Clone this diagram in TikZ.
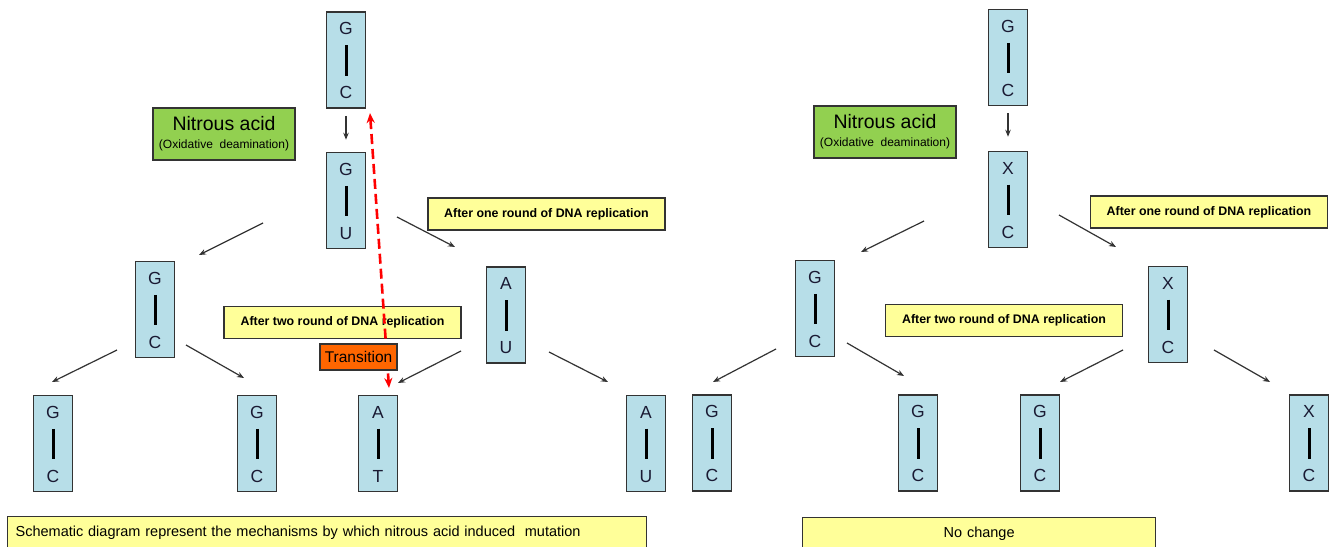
\documentclass[tikz,border=0pt]{standalone}
\usepackage{fontspec}
\setmainfont{Liberation Sans}
\usetikzlibrary{arrows.meta}

\definecolor{pairfill}{HTML}{B7DEE8}
\definecolor{notefill}{HTML}{FFFF99}
\definecolor{acidfill}{HTML}{92D050}
\definecolor{transfill}{HTML}{FF6600}
\definecolor{edge}{HTML}{333333}
\definecolor{basetext}{HTML}{1A1A33}

\tikzset{
  pairbox/.style={draw=edge, line width=1.5pt, fill=pairfill,
    minimum width=39pt, minimum height=96pt, inner sep=0pt},
  basechar/.style={font=\fontsize{17.5}{18}\selectfont, text=basetext,
    inner sep=0pt, anchor=base},
  bond/.style={line width=3pt, black, shorten <=10.5pt, shorten >=10.5pt},
  note/.style={draw=edge, line width=1.3pt, fill=notefill,
    minimum width=237pt, minimum height=32pt, inner sep=0pt,
    font=\bfseries\fontsize{12.4}{14}\selectfont},
  acid/.style={draw=edge, line width=1.3pt, fill=acidfill,
    minimum width=142pt, minimum height=52pt, inner sep=0pt, align=center,
    font=\fontsize{12}{18}\selectfont},
  caption/.style={draw=edge, line width=1.3pt, fill=notefill,
    minimum height=32pt, inner sep=0pt, anchor=north west,
    font=\fontsize{14.5}{16}\selectfont},
  flow/.style={-{Stealth[length=7pt,width=5.5pt]}, line width=1.2pt, draw=edge},
  mutation/.style={{Stealth[length=10pt,width=8pt]}-{Stealth[length=10pt,width=8pt]},
    line width=2.6pt, draw=red, dash pattern=on 10pt off 5pt},
}

% base pair box: name, x, y (centre), upper base, lower base
\newcommand\basepair[5]{%
  \node[pairbox] (#1) at (#2,#3) {};
  \node[basechar] (#1-up) at (#2,#3-25.5) {#4};
  \node[basechar] (#1-lo) at (#2,#3+38.5) {#5};
  \draw[bond] (#1-up.south) -- (#1-lo.north);
}

\newcommand\acidtext{{\fontsize{19.5}{22}\selectfont Nitrous acid}\\
  (Oxidative\ \ deamination)}

\begin{document}
\begin{tikzpicture}[x=1pt, y=-1pt]
  \useasboundingbox (0,0) rectangle (1330,546);
  \clip (0,0) rectangle (1330,546);
  \fill[white] (0,0) rectangle (1330,546);

  % ---------- left tree: G-C deaminated to G-U ----------
  \basepair{lt0}{346}{60}{G}{C}
  \basepair{lt1}{346}{200.5}{G}{U}
  \basepair{lm1}{155}{309.5}{G}{C}
  \basepair{lm2}{506}{315}{A}{U}
  \basepair{lb1}{53}{443.5}{G}{C}
  \basepair{lb2}{257}{443.5}{G}{C}
  \basepair{lb3}{378}{443.5}{A}{T}
  \basepair{lb4}{646}{443.5}{A}{U}

  \node[acid] (acidL) at (224,134) {\acidtext};
  \node[note] (oneL) at (546.5,214) {After one round of DNA replication};
  \node[note] (twoL) at (342.5,322.5) {After two round of DNA replication};
  \node[caption, minimum width=639pt, text width=623pt, inner xsep=8pt, align=left]
    (capL) at (7,516) {Schematic diagram represent the mechanisms by which nitrous acid induced\ \ mutation};

  \draw[flow, shorten <=7pt, shorten >=12pt] (lt0.south) -- (lt1.north);

  % ---------- right tree: G-C deaminated to X-C ----------
  \basepair{rt0}{1008}{57.5}{G}{C}
  \basepair{rt1}{1008}{199.5}{X}{C}
  \basepair{rm1}{815}{308.5}{G}{C}
  \basepair{rm2}{1168}{314.5}{X}{C}
  \basepair{rb1}{712}{443}{G}{C}
  \basepair{rb2}{918}{443}{G}{C}
  \basepair{rb3}{1040}{443}{G}{C}
  \basepair{rb4}{1309}{443}{X}{C}

  \node[acid] (acidR) at (885,132) {\acidtext};
  \node[note] (oneR) at (1209,212) {After one round of DNA replication};
  \node[note] (twoR) at (1004,320.5) {After two round of DNA replication};
  \node[caption, minimum width=353pt, text width=353pt, align=center]
    (capR) at (802,517) {No change};

  \draw[flow, shorten <=7pt, shorten >=14pt] (rt0.south) -- (rt1.north);

  % replication arrows
  \foreach \n/\sx/\sy/\ex/\ey in {
      a1/263/223/199/255, a2/397/217/455/247,
      a3/117/350/52/382,  a4/186/345/244/378,
      a5/461/351/398/383, a6/549/352/608/382,
      b1/924/221/861/252, b2/1059/215/1116/247,
      b3/776/349/713/382, b4/847/343/904/376,
      b5/1123/350/1060/382, b6/1214/350/1270/382} {
    \coordinate (\n-from) at (\sx,\sy);
    \coordinate (\n-to) at (\ex,\ey);
    \draw[flow] (\n-from) -- (\n-to);
  }

  % transition between the G-C and A-T pairs
  \coordinate (mutG) at (370,113);
  \coordinate (mutA) at (389,388);
  \draw[mutation] (mutG) -- (mutA);
  \node[draw=edge, line width=1.3pt, fill=transfill, minimum width=77pt,
    minimum height=26pt, inner sep=0pt, font=\fontsize{15.5}{16}\selectfont]
    (trans) at (358.5,357) {Transition};
\end{tikzpicture}
\end{document}
